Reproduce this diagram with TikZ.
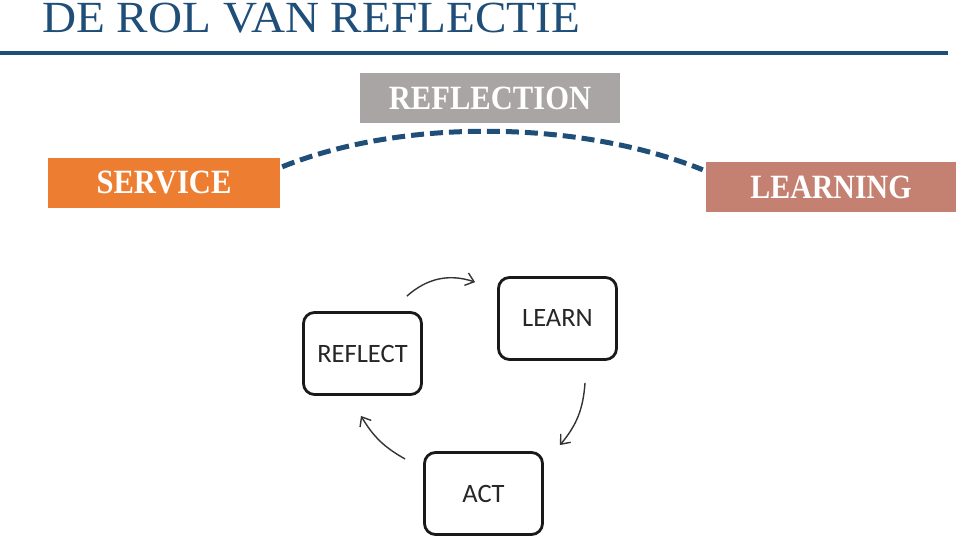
\documentclass[tikz,border=0pt]{standalone}
\usepackage{fontspec}
\newfontfamily\cyclefont{Carlito}
\newfontfamily\labelfont{Liberation Serif}
\usetikzlibrary{arrows.meta}

\definecolor{titleblue}{RGB}{31,78,121}
\definecolor{reflgray}{RGB}{168,165,164}
\definecolor{serviceorange}{RGB}{237,125,49}
\definecolor{learnrose}{RGB}{196,128,112}

\begin{document}
\begin{tikzpicture}[x=1pt,y=1pt,
        labelbox/.style={inner sep=0pt, minimum height=50pt, text=white,
            font=\labelfont\bfseries\fontsize{34}{34}\selectfont},
        cyclebox/.style={draw=black!90, line width=2.8pt, rounded corners=11pt,
            minimum width=118pt, minimum height=82pt, inner sep=0pt,
            text=black!85, font=\cyclefont\fontsize{26.5}{26.5}\selectfont},
        cyclearrow/.style={black!80, line width=1.4pt,
            -{Straight Barb[length=8pt,width=13pt]}}]
        \useasboundingbox (0,0) rectangle (959,545);
        % Title and rule
        \node[anchor=base west, inner sep=0pt, text=titleblue,
            font=\labelfont\fontsize{44.5}{44.5}\selectfont] (title) at (42,512)
            {\scalebox{1.06}[1]{DE ROL VAN REFLECTIE}};
        \draw[titleblue, line width=4.5pt] (0,492) -- (948,492);
        % Service, reflection, learning
        \node[labelbox, fill=reflgray, minimum width=260pt] (reflection) at (490,447)
            {\scalebox{0.9}[1]{REFLECTION}};
        \node[labelbox, fill=serviceorange, minimum width=232pt] (service) at (164,362)
            {\scalebox{0.9}[1]{SERVICE}};
        \node[labelbox, fill=learnrose, minimum width=250pt] (learning) at (831,358)
            {\scalebox{0.88}[1]{LEARNING}};
        \draw[titleblue, line width=5pt, dash pattern=on 13pt off 6pt]
            ([shift={(2,-9)}]service.north east) to[out=22, in=158, looseness=0.8]
            ([shift={(-3,-8)}]learning.north west);
        % The cycle
        \node[cyclebox] (reflect) at (362.5,191.5) {REFLECT};
        \node[cyclebox] (learn) at (557.5,226.5) {LEARN};
        \node[cyclebox] (act) at (483.5,51.5) {ACT};
        \draw[cyclearrow] ([shift={(-16,15)}]reflect.north east) to[bend left=30]
            ([shift={(-22,-6)}]learn.north west);
        \draw[cyclearrow] ([shift={(27.5,-22)}]learn.south) to[bend left=18]
            ([shift={(16,6)}]act.north east);
        \draw[cyclearrow] ([shift={(-18,34.5)}]act.west) to[bend left=15]
            ([shift={(-1.5,-20)}]reflect.south);
    \end{tikzpicture}
\end{document}
